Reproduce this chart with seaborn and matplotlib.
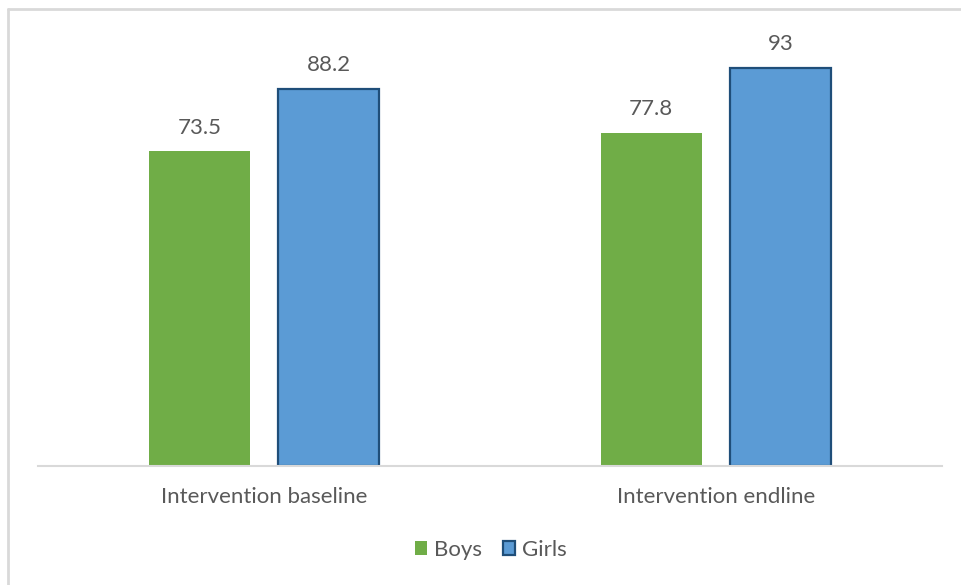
import matplotlib
matplotlib.use("Agg")
import matplotlib.pyplot as plt
import seaborn as sns
import pandas as pd
from matplotlib.lines import Line2D
from matplotlib.patches import Patch

categories = ["Intervention baseline", "Intervention endline"]
groups = ["Boys", "Girls"]
boys = [73.5, 77.8]
girls = [88.2, 93]
labels_boys = ["73.5", "77.8"]
labels_girls = ["88.2", "93"]

df = pd.DataFrame({
    "cat": categories * 2,
    "grp": ["Boys"] * 2 + ["Girls"] * 2,
    "val": boys + girls,
})

sns.set_style("white")
plt.rcParams["font.family"] = ["Lato", "DejaVu Sans"]
txt = "#595959"
fs = 16

fig = plt.figure(figsize=(9.61, 5.85), dpi=100)
ax = fig.add_axes([38 / 961, 119 / 585, 904 / 961, 428 / 585])

palette = {"Boys": "#70AD47", "Girls": "#5B9BD5"}
sns.barplot(data=df, x="cat", y="val", hue="grp", order=categories, hue_order=groups,
            palette=palette, width=0.572, gap=0.217, saturation=1, ax=ax,
            legend=False, errorbar=None)

for p in ax.patches:
    if abs(p.get_facecolor()[2] - 0xD5 / 255) < 0.02:
        p.set_edgecolor("#1F4E79")
        p.set_linewidth(1.6)
    else:
        p.set_linewidth(0)

for cont, labs in zip(ax.containers, [labels_boys, labels_girls]):
    ax.bar_label(cont, labels=labs, padding=10, fontsize=fs, color=txt)

ax.set_ylim(0, 100)
ax.set_xlim(-0.5, 1.5)
ax.set_xlabel("")
ax.set_ylabel("")
ax.set_yticks([])
for s in ["top", "right", "left"]:
    ax.spines[s].set_visible(False)
ax.spines["bottom"].set_color("#D9D9D9")
ax.spines["bottom"].set_linewidth(1.5)
ax.tick_params(axis="x", length=0, pad=15, labelsize=fs, labelcolor=txt)

handles = [Patch(facecolor="#70AD47", edgecolor="none", label="Boys"),
           Patch(facecolor="#5B9BD5", edgecolor="#1F4E79", linewidth=1.6, label="Girls")]
fig.legend(handles=handles, loc="center", bbox_to_anchor=(491 / 961, 1 - 550 / 585),
           ncol=2, frameon=False, fontsize=fs, labelcolor=txt, handlelength=0.55,
           handleheight=0.55, handletextpad=0.3, columnspacing=0.95)

fig.add_artist(Line2D([8 / 961, 8 / 961], [0, 1 - 9 / 585], transform=fig.transFigure,
                      color="#D9D9D9", linewidth=2))
fig.add_artist(Line2D([8 / 961, 1], [1 - 9 / 585, 1 - 9 / 585], transform=fig.transFigure,
                      color="#D9D9D9", linewidth=2))

fig.savefig("out.png", dpi=100)
